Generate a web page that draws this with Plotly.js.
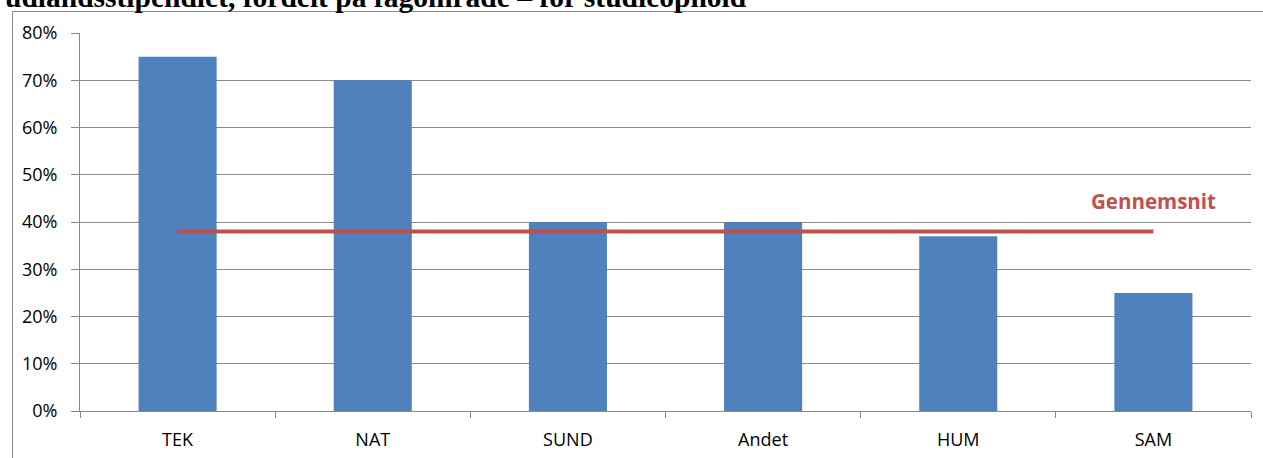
<!DOCTYPE html>
<html><head><meta charset="utf-8">
<script src="https://cdn.plot.ly/plotly-3.0.1.min.js"></script>
<style>html,body{margin:0;padding:0;background:#fff;}#c{width:1263px;height:458px;}</style>
</head><body><div id="c"></div>
<script>
const categories = ["TEK", "NAT", "SUND", "Andet", "HUM", "SAM"];
const values = [0.75, 0.70, 0.40, 0.40, 0.37, 0.25];
const averageValue = 0.38;
const averageLabel = "Gennemsnit";
const titleText = "udlandsstipendiet, fordelt på fagområde – for studieophold";
const yTickVals = [0, 0.1, 0.2, 0.3, 0.4, 0.5, 0.6, 0.7, 0.8];

const W = 1263, H = 458, L = 80, R = 12, T = 33, B = 47;
const pw = W - L - R, ph = H - T - B;
const px = x => (x - L) / pw;
const py = y => (H - B - y) / ph;

const data = [
  {type: "bar", x: categories, y: values, marker: {color: "#4F81BD"}, width: 0.4, hoverinfo: "x+y"},
  {type: "scatter", mode: "lines", x: [categories[0], categories[categories.length - 1]],
   y: [averageValue, averageValue], line: {color: "#C0504D", width: 4}, hoverinfo: "y"}
];

const layout = {
  width: W, height: H,
  margin: {l: L, r: R, t: T, b: B, pad: 0},
  paper_bgcolor: "#fff", plot_bgcolor: "#fff",
  showlegend: false,
  font: {family: "Open Sans, Liberation Sans, Arial, sans-serif", size: 18, color: "#000"},
  xaxis: {type: "category", showgrid: false, showline: true, linecolor: "#888", linewidth: 1,
          ticks: "outside", tickson: "boundaries", ticklen: 6, tickcolor: "#888",
          ticklabelstandoff: 12, tickfont: {size: 18}, fixedrange: true},
  yaxis: {range: [0, 0.8], tickvals: yTickVals, tickformat: ".0%", showgrid: true, gridcolor: "#8c8c8c",
          gridwidth: 1, showline: true, linecolor: "#888", ticks: "outside", ticklen: 8, tickcolor: "#888",
          ticklabelstandoff: 10, zeroline: false, tickfont: {size: 18}, fixedrange: true},
  shapes: [
    {type: "line", xref: "paper", yref: "paper", x0: px(12.5), x1: px(12.5), y0: py(11.5), y1: py(H + 2),
     line: {color: "#8c8c8c", width: 1}},
    {type: "line", xref: "paper", yref: "paper", x0: px(12.5), x1: px(W + 2), y0: py(11.5), y1: py(11.5),
     line: {color: "#8c8c8c", width: 1}}
  ],
  annotations: [
    {text: "<b>" + averageLabel + "</b>", xref: "x", yref: "paper", x: categories[categories.length - 1],
     y: py(201), xanchor: "center", yanchor: "middle", showarrow: false,
     font: {size: 20.5, color: "#C0504D", family: "Open Sans, Liberation Sans, Arial, sans-serif"}},
    {text: "<b>" + titleText + "</b>", xref: "paper", yref: "paper", x: px(3), y: py(15),
     xanchor: "left", yanchor: "bottom", showarrow: false,
     font: {size: 29.5, color: "#000", family: "Liberation Serif, Times New Roman, serif"}}
  ]
};

Plotly.newPlot("c", data, layout, {displayModeBar: false, staticPlot: true});
</script></body></html>
